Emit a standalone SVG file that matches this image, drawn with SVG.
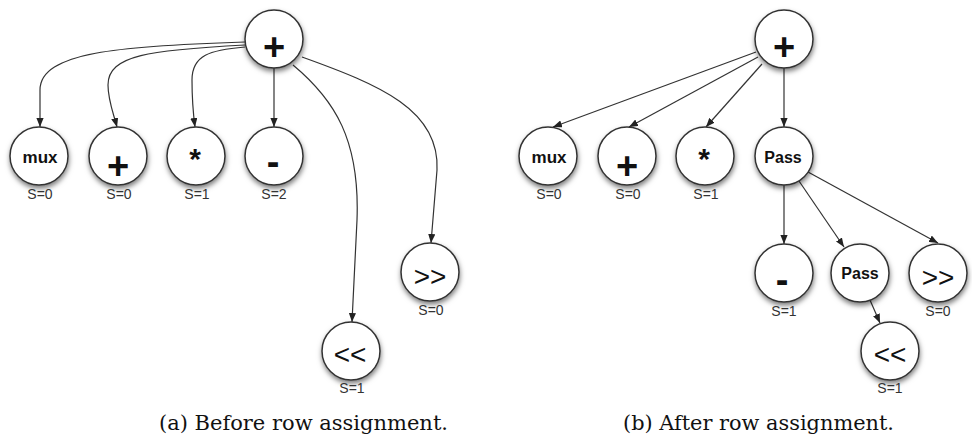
<svg xmlns="http://www.w3.org/2000/svg" width="972" height="440" viewBox="0 0 972 440">
  <defs>
    <filter id="shadow" x="-40%" y="-40%" width="180%" height="180%">
      <feDropShadow dx="0.5" dy="3" stdDeviation="2.8" flood-color="#000" flood-opacity="0.5"/>
    </filter>
    <marker id="arrow" viewBox="0 0 10 8" refX="10" refY="4" markerWidth="9" markerHeight="7.2" markerUnits="userSpaceOnUse" orient="auto">
      <path d="M0,0 L10,4 L0,8 Z" fill="#222"/>
    </marker>
  </defs>
  <style>
    .node circle { fill: #fff; stroke: #333; stroke-width: 1.5; filter: url(#shadow); }
    .sym { font-family: "Liberation Sans", Arial, sans-serif; font-weight: bold; fill: #111; text-anchor: middle; }
    .big { font-size: 38px; }
    .star { font-size: 30px; }
    .word { font-size: 16px; }
    .mux { font-size: 17px; }
    .shift { font-family: "Liberation Sans", Arial, sans-serif; font-size: 28px; fill: #111; text-anchor: middle; }
    .s { font-family: "Liberation Sans", Arial, sans-serif; font-size: 14px; fill: #333; text-anchor: middle; }
    .edges path { fill: none; stroke: #333; stroke-width: 1.2; marker-end: url(#arrow); }
    .caption { font-family: "DejaVu Serif", "Liberation Serif", serif; font-size: 20px; fill: #111; text-anchor: middle; }
  </style>

  <!-- (a) tree before row assignment -->
  <g class="edges" id="edges-a">
    <path d="M245,42 C120,46 40,52 40,90 L40,127"/>
    <path d="M245,45 C150,50 108,55 108,85 C108,100 113,112 117,127"/>
    <path d="M245,47 C210,50 192,55 192,80 C192,100 193,112 195,127"/>
    <path d="M274,68 L274,127"/>
    <path d="M293,65 C335,100 360,140 357,220 L352,322"/>
    <path d="M302,57 C380,85 440,110 437,170 L431,243"/>
  </g>

  <g class="node" id="a-root"><circle cx="274" cy="39" r="29"/><text class="sym big" x="274" y="60">+</text></g>
  <g class="node" id="a-mux"><circle cx="39" cy="156" r="29"/><text class="sym mux" x="40" y="163">mux</text><text class="s" x="40" y="199">S=0</text></g>
  <g class="node" id="a-add"><circle cx="118" cy="156" r="29"/><text class="sym big" x="118" y="179">+</text><text class="s" x="119" y="199">S=0</text></g>
  <g class="node" id="a-mul"><circle cx="196" cy="156" r="29"/><text class="sym star" x="195" y="169">*</text><text class="s" x="197" y="199">S=1</text></g>
  <g class="node" id="a-sub"><circle cx="274" cy="156" r="29"/><text class="sym big" x="273" y="174.5">-</text><text class="s" x="274" y="199">S=2</text></g>
  <g class="node" id="a-shl"><circle cx="351" cy="351" r="29"/><text class="shift" x="350" y="364">&lt;&lt;</text><text class="s" x="352" y="393">S=1</text></g>
  <g class="node" id="a-shr"><circle cx="430" cy="272" r="29"/><text class="shift" x="430" y="286">&gt;&gt;</text><text class="s" x="431" y="315">S=0</text></g>

  <text class="caption" x="303.5" y="430" textLength="289" lengthAdjust="spacingAndGlyphs">(a) Before row assignment.</text>

  <!-- (b) tree after row assignment -->
  <g class="edges" id="edges-b">
    <path d="M756,52 L553,127"/>
    <path d="M758,57 L629,127"/>
    <path d="M762,64 L706,127"/>
    <path d="M784,68 L784,127"/>
    <path d="M784,185 L784,244"/>
    <path d="M799,181 L844,247"/>
    <path d="M808,172 L938,243"/>
    <path d="M870,300 L880,323"/>
  </g>

  <g class="node" id="b-root"><circle cx="784" cy="39" r="29"/><text class="sym big" x="784" y="60">+</text></g>
  <g class="node" id="b-mux"><circle cx="548" cy="156" r="29"/><text class="sym mux" x="549" y="163">mux</text><text class="s" x="549" y="199">S=0</text></g>
  <g class="node" id="b-add"><circle cx="627" cy="156" r="29"/><text class="sym big" x="627" y="179">+</text><text class="s" x="628" y="199">S=0</text></g>
  <g class="node" id="b-mul"><circle cx="705" cy="156" r="29"/><text class="sym star" x="704" y="169">*</text><text class="s" x="706" y="199">S=1</text></g>
  <g class="node" id="b-pass1"><circle cx="784" cy="156" r="29"/><text class="sym word" x="783" y="163">Pass</text></g>
  <g class="node" id="b-sub"><circle cx="784" cy="273" r="29"/><text class="sym big" x="782" y="292.5">-</text><text class="s" x="784" y="316">S=1</text></g>
  <g class="node" id="b-pass2"><circle cx="860" cy="273" r="29"/><text class="sym word" x="860" y="279">Pass</text></g>
  <g class="node" id="b-shr"><circle cx="938" cy="273" r="29"/><text class="shift" x="938" y="287">&gt;&gt;</text><text class="s" x="938" y="316">S=0</text></g>
  <g class="node" id="b-shl"><circle cx="890" cy="351" r="29"/><text class="shift" x="890" y="364">&lt;&lt;</text><text class="s" x="890" y="393">S=1</text></g>

  <text class="caption" x="758.5" y="430" textLength="271" lengthAdjust="spacingAndGlyphs">(b) After row assignment.</text>
</svg>
